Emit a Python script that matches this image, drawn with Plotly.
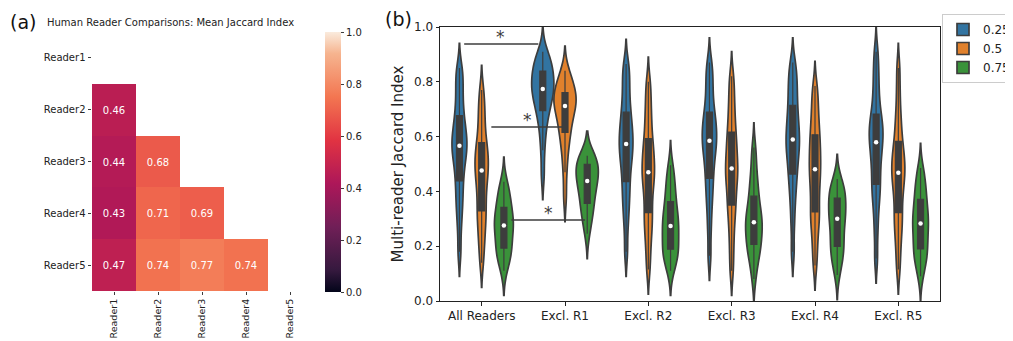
import numpy as np
import plotly.graph_objects as go

# window size and page offset (default body margin of the html page)
WIN_W, WIN_H, PAGE_OFF = 1013, 341, 8
W, H = WIN_W - PAGE_OFF, WIN_H - PAGE_OFF


def px(x):
    return (x - PAGE_OFF) / W


def py(y):
    return 1 - (y - PAGE_OFF) / H


# ---------------- Panel (a) data ----------------
readers = ["Reader1", "Reader2", "Reader3", "Reader4", "Reader5"]
row_reader2 = [0.46]
row_reader3 = [0.44, 0.68]
row_reader4 = [0.43, 0.71, 0.69]
row_reader5 = [0.47, 0.74, 0.77, 0.74]
cbar_ticks = [0.0, 0.2, 0.4, 0.6, 0.8, 1.0]

# ---------------- Panel (b) data ----------------
categories = ["All Readers", "Excl. R1", "Excl. R2", "Excl. R3", "Excl. R4", "Excl. R5"]
thresholds = ["0.25", "0.5", "0.75"]

thr_025 = [
    [0.18, 0.27, 0.33, 0.37, 0.41, 0.448, 0.48, 0.51, 0.53, 0.55, 0.567, 0.58, 0.60, 0.62, 0.64, 0.669, 0.70, 0.74, 0.78, 0.82, 0.85],
    [0.46, 0.55, 0.61, 0.65, 0.68, 0.70, 0.72, 0.735, 0.75, 0.762, 0.774, 0.785, 0.795, 0.805, 0.82, 0.836, 0.85, 0.86, 0.875, 0.89, 0.91],
    [0.18, 0.27, 0.33, 0.37, 0.41, 0.444, 0.48, 0.51, 0.53, 0.55, 0.573, 0.59, 0.61, 0.63, 0.655, 0.682, 0.71, 0.75, 0.79, 0.83, 0.865],
    [0.165, 0.26, 0.33, 0.38, 0.42, 0.456, 0.49, 0.52, 0.545, 0.565, 0.585, 0.60, 0.62, 0.64, 0.66, 0.682, 0.71, 0.75, 0.79, 0.83, 0.87],
    [0.18, 0.28, 0.35, 0.40, 0.44, 0.471, 0.50, 0.53, 0.55, 0.57, 0.589, 0.61, 0.63, 0.655, 0.68, 0.706, 0.74, 0.77, 0.80, 0.835, 0.87],
    [0.155, 0.25, 0.32, 0.37, 0.405, 0.432, 0.47, 0.50, 0.53, 0.555, 0.579, 0.595, 0.615, 0.635, 0.655, 0.673, 0.71, 0.75, 0.80, 0.85, 0.91],
]
thr_050 = [
    [0.14, 0.20, 0.24, 0.28, 0.31, 0.335, 0.37, 0.40, 0.43, 0.45, 0.476, 0.49, 0.51, 0.53, 0.55, 0.571, 0.60, 0.64, 0.68, 0.72, 0.77],
    [0.38, 0.47, 0.53, 0.57, 0.60, 0.62, 0.645, 0.665, 0.68, 0.695, 0.712, 0.72, 0.73, 0.738, 0.748, 0.758, 0.77, 0.785, 0.80, 0.82, 0.84],
    [0.115, 0.18, 0.23, 0.27, 0.30, 0.33, 0.37, 0.40, 0.43, 0.45, 0.47, 0.49, 0.51, 0.535, 0.56, 0.583, 0.62, 0.66, 0.70, 0.75, 0.80],
    [0.11, 0.18, 0.24, 0.29, 0.33, 0.357, 0.39, 0.42, 0.445, 0.465, 0.484, 0.505, 0.53, 0.555, 0.58, 0.609, 0.64, 0.68, 0.72, 0.77, 0.82],
    [0.13, 0.19, 0.24, 0.28, 0.31, 0.33, 0.37, 0.40, 0.43, 0.455, 0.481, 0.50, 0.525, 0.55, 0.575, 0.599, 0.63, 0.66, 0.70, 0.74, 0.785],
    [0.115, 0.18, 0.23, 0.27, 0.30, 0.33, 0.37, 0.40, 0.425, 0.448, 0.468, 0.485, 0.505, 0.525, 0.548, 0.573, 0.61, 0.65, 0.70, 0.77, 0.85],
]
thr_075 = [
    [0.11, 0.14, 0.16, 0.175, 0.185, 0.196, 0.215, 0.235, 0.25, 0.265, 0.276, 0.285, 0.295, 0.305, 0.32, 0.337, 0.355, 0.375, 0.39, 0.41, 0.435],
    [0.245, 0.28, 0.31, 0.33, 0.345, 0.36, 0.38, 0.40, 0.415, 0.428, 0.438, 0.447, 0.456, 0.465, 0.48, 0.497, 0.505, 0.512, 0.518, 0.524, 0.53],
    [0.11, 0.135, 0.155, 0.17, 0.18, 0.192, 0.21, 0.228, 0.245, 0.26, 0.274, 0.288, 0.302, 0.318, 0.335, 0.357, 0.38, 0.405, 0.43, 0.46, 0.495],
    [0.08, 0.13, 0.16, 0.18, 0.195, 0.21, 0.23, 0.245, 0.26, 0.275, 0.287, 0.30, 0.315, 0.33, 0.35, 0.377, 0.40, 0.43, 0.46, 0.51, 0.56],
    [0.095, 0.13, 0.155, 0.175, 0.19, 0.202, 0.225, 0.245, 0.265, 0.285, 0.30, 0.312, 0.325, 0.338, 0.355, 0.372, 0.385, 0.398, 0.41, 0.425, 0.445],
    [0.09, 0.125, 0.15, 0.165, 0.18, 0.193, 0.215, 0.235, 0.252, 0.268, 0.283, 0.297, 0.31, 0.325, 0.345, 0.366, 0.385, 0.405, 0.43, 0.455, 0.485],
]
series_values = [thr_025, thr_050, thr_075]
hue_colors = ["#3274a1", "#e1812c", "#3a923a"]

# significance brackets: (x start, x end, y) in data units of panel (b), star (x, y)
sig_lines = [(-0.21, 0.68, 0.938), (0.116, 0.975, 0.635), (0.356, 1.24, 0.296)]
sig_stars = [(0.22, 0.965), (0.55, 0.66), (0.80, 0.32)]

FONT = "DejaVu Sans"
DARK = "#3d3d3d"

rocket = [
    [0.0, "#03051a"], [0.083, "#35193e"], [0.25, "#701f57"], [0.417, "#ad1759"],
    [0.583, "#e13342"], [0.75, "#f37651"], [0.917, "#f6b48f"], [1.0, "#faebdd"],
]

lower_rows = [[], row_reader2, row_reader3, row_reader4, row_reader5]
z = [[(r[j] if j < len(r) else None) for j in range(len(readers))] for r in lower_rows]

fig = go.Figure()

fig.add_trace(go.Heatmap(
    x=readers, y=readers, z=z, zmin=0, zmax=1, colorscale=rocket,
    texttemplate="%{z:.2f}", textfont=dict(color="white", size=10, family=FONT),
    hoverongaps=False, xaxis="x", yaxis="y",
    colorbar=dict(
        x=px(325), xanchor="left", y=py(162), yanchor="middle",
        len=260 / H, lenmode="fraction", thickness=16, thicknessmode="pixels",
        xpad=0, ypad=0,
        outlinewidth=0, tickvals=cbar_ticks, ticktext=[f"{t:.1f}" for t in cbar_ticks],
        ticks="outside", ticklen=3.5, tickcolor=DARK,
        tickfont=dict(size=10, family=FONT, color="#222"),
    ),
))

n_hue = len(thresholds)
vwidth = 0.8 / n_hue
for h, (name, color, groups) in enumerate(zip(thresholds, hue_colors, series_values)):
    offset = (h - (n_hue - 1) / 2) * vwidth
    xs, ys, med_x, med_y = [], [], [], []
    for c, vals in enumerate(groups):
        pos = c + offset
        xs += [pos] * len(vals)
        ys += vals
        med_x.append(pos)
        med_y.append(float(np.median(vals)))
    fig.add_trace(go.Violin(
        x=xs, y=ys, name=name, legendgroup=name, xaxis="x2", yaxis="y2",
        width=vwidth, scalegroup="all", scalemode="width", bandwidth=0.045,
        spanmode="soft", fillcolor=color, opacity=1,
        line=dict(color=DARK, width=1.7), points=False,
        box=dict(visible=True, width=0.27, fillcolor=DARK, line=dict(color=DARK, width=1.2)),
        meanline=dict(visible=False), hoverinfo="skip",
    ))
    fig.add_trace(go.Scatter(
        x=med_x, y=med_y, mode="markers", xaxis="x2", yaxis="y2",
        marker=dict(color="white", size=4.5), showlegend=False, hoverinfo="skip",
    ))

for (x0, x1, y) in sig_lines:
    fig.add_shape(type="line", xref="x2", yref="y2", x0=x0, x1=x1, y0=y, y1=y,
                  line=dict(color=DARK, width=1.5))
annotations = []
for (sx, sy) in sig_stars:
    annotations.append(dict(xref="x2", yref="y2", x=sx, y=sy, text="*", showarrow=False,
                            font=dict(size=17, family=FONT, color=DARK)))

annotations += [
    dict(xref="paper", yref="paper", x=px(8), y=py(22), xanchor="left", yanchor="middle",
         text="(a)", showarrow=False, font=dict(size=19, family=FONT, color="#111")),
    dict(xref="paper", yref="paper", x=px(383), y=py(19), xanchor="left", yanchor="middle",
         text="(b)", showarrow=False, font=dict(size=19, family=FONT, color="#111")),
    dict(xref="paper", yref="paper", x=px(45), y=py(23), xanchor="left", yanchor="middle",
         text="Human Reader Comparisons: Mean Jaccard Index", showarrow=False,
         font=dict(size=10, family=FONT, color="#222")),
]

axis_font = dict(size=10, family=FONT, color="#222")
fig.update_layout(
    width=W, height=H, margin=dict(l=0, r=0, t=0, b=0, autoexpand=False),
    paper_bgcolor="white", plot_bgcolor="white",
    font=dict(family=FONT, color="#222"),
    violinmode="overlay",
    xaxis=dict(domain=[px(92), px(312)], anchor="y", showgrid=False, zeroline=False,
               ticks="outside", ticklen=3, tickcolor=DARK, tickangle=-90,
               tickfont=dict(size=9.5, family=FONT, color="#222"), showline=False),
    yaxis=dict(domain=[py(291), py(32)], anchor="x", autorange="reversed",
               showgrid=False, zeroline=False, ticks="outside", ticklen=3.5, tickcolor=DARK,
               tickfont=axis_font, showline=False),
    xaxis2=dict(domain=[px(440), px(940)], anchor="y2", range=[-0.5, 5.5],
                tickvals=list(range(len(categories))), ticktext=categories,
                showgrid=False, zeroline=False, showline=True, mirror=True,
                linecolor="#222", linewidth=1, ticks="outside", ticklen=3.5, tickcolor="#222",
                tickfont=dict(size=12, family=FONT, color="#222")),
    yaxis2=dict(domain=[py(301), py(27)], anchor="x2", range=[0, 1],
                tickvals=[0, 0.2, 0.4, 0.6, 0.8, 1.0], tickformat=".1f",
                showgrid=False, zeroline=False, showline=True, mirror=True,
                linecolor="#222", linewidth=1, ticks="outside", ticklen=3.5, tickcolor="#222",
                tickfont=dict(size=12, family=FONT, color="#222"),
                title=dict(text="Multi-reader Jaccard Index", font=dict(size=15, family=FONT, color="#222"),
                           standoff=6)),
    legend=dict(x=px(942), y=py(14), xanchor="left", yanchor="top",
                bordercolor="#cccccc", borderwidth=1, bgcolor="white",
                font=dict(size=12, family=FONT, color="#222"), itemwidth=30,
                tracegroupgap=0),
    annotations=annotations,
)

fig.write_html("out.html")
